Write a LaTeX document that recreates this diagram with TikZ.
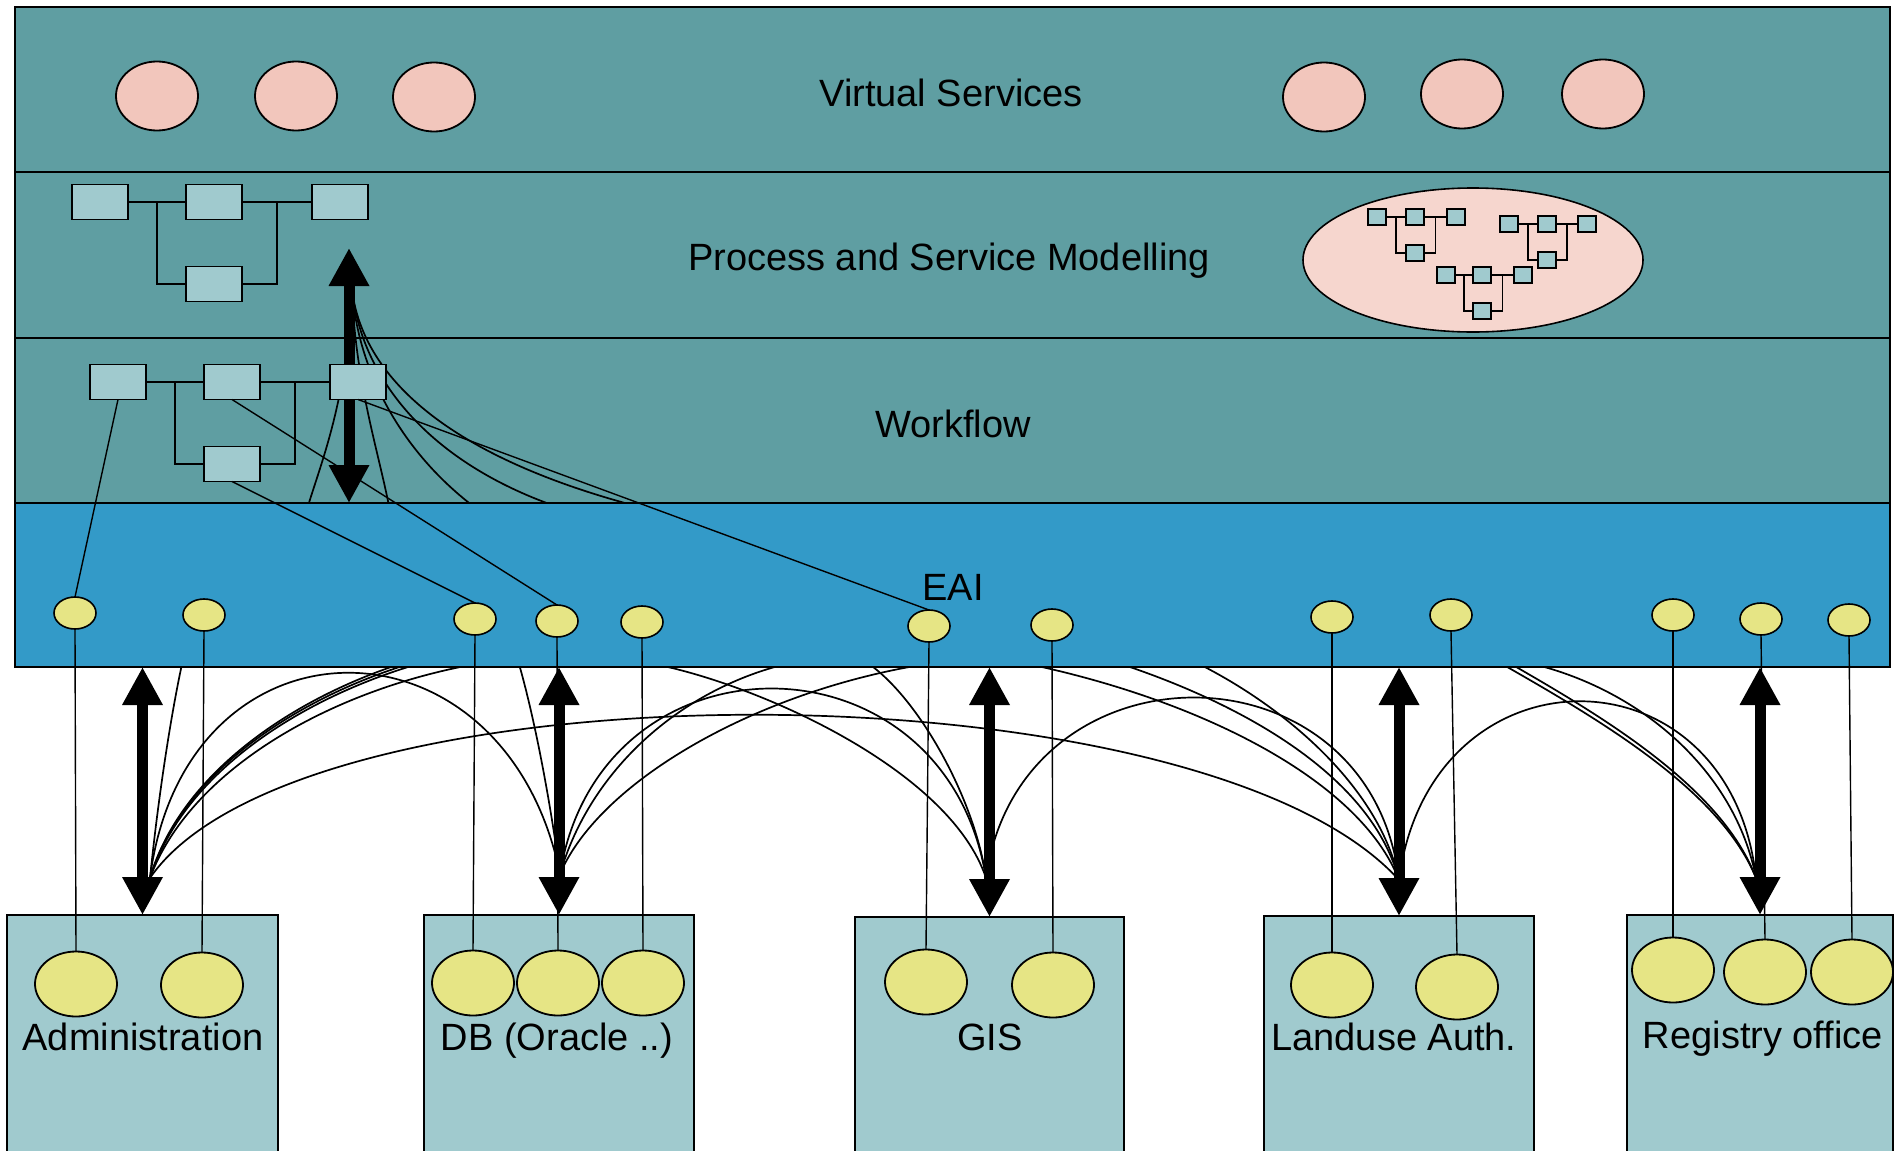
\documentclass[tikz,border=0pt]{standalone}
\usepackage{fontspec}
\setmainfont{Liberation Sans}
\usetikzlibrary{arrows.meta,shapes.geometric}

\definecolor{layerteal}{HTML}{5F9EA2}
\definecolor{eaiblue}{HTML}{339AC8}
\definecolor{boxblue}{HTML}{A0CACE}
\definecolor{svcpink}{HTML}{F2C6BC}
\definecolor{modelpink}{HTML}{F6D6CE}
\definecolor{portyellow}{HTML}{E6E585}

\tikzset{
  layerbox/.style={draw, line width=2pt, fill=layerteal, anchor=north west,
    minimum width=1875pt, inner sep=0pt, outer sep=0pt},
  caption/.style={anchor=base, inner sep=0pt, font=\fontsize{38pt}{44pt}\selectfont},
  sysbox/.style={draw, line width=2pt, fill=boxblue, anchor=north,
    minimum height=260pt, inner sep=0pt, outer sep=0pt},
  flowbox/.style={draw, line width=1.7pt, fill=boxblue, minimum width=56pt,
    minimum height=35pt, inner sep=0pt, outer sep=0pt},
  minibox/.style={draw, line width=1.3pt, fill=boxblue, minimum width=18pt,
    minimum height=16pt, inner sep=0pt, outer sep=0pt},
  service/.style={ellipse, draw, line width=1.8pt, fill=svcpink, minimum width=82pt,
    minimum height=69pt, inner sep=0pt},
  port/.style={ellipse, draw, line width=1.6pt, fill=portyellow, minimum width=42pt,
    minimum height=32pt, inner sep=0pt, outer sep=0pt},
  resource/.style={ellipse, draw, line width=1.8pt, fill=portyellow, minimum width=82pt,
    minimum height=65pt, inner sep=0pt, outer sep=0pt},
  wire/.style={line width=1.6pt},
  link/.style={line width=1.4pt},
  curve/.style={line width=1.7pt},
  bigarrow/.style={line width=11pt, {Triangle[length=38pt,width=38pt]}-{Triangle[length=38pt,width=38pt]}},
  % three boxes in a row, a fourth one below the middle one, joined as a branch;
  % arguments: box style / first pitch / second pitch / drop of the lower box
  pics/branch/.style args={#1/#2/#3/#4}{code={
    \node[#1] (-a) at (0,0) {};
    \node[#1] (-b) at (#2,0) {};
    \node[#1] (-c) at (#2+#3,0) {};
    \node[#1] (-d) at (#2,#4) {};
    \coordinate (-j1) at (0.5*#2,0);
    \coordinate (-j2) at (#2+0.5*#3,0);
    \draw[wire] (-a) -- (-j1) -- (-b) (-b) -- (-j2) -- (-c)
      (-j1) |- (-d) (-j2) |- (-d);
  }}
}

\begin{document}
\begin{tikzpicture}[x=1pt, y=-1pt]
\useasboundingbox (0,0) rectangle (1896,1151);
\clip (0,0) rectangle (1896,1151);
\fill[white] (0,0) rectangle (1896,1151);

% ---- upper layers ----
\node[layerbox, minimum height=165pt] (lyVS) at (15,7) {};
\node[layerbox, minimum height=166pt] (lyPM) at (15,172) {};
\node[layerbox, minimum height=165pt] (lyWF) at (15,338) {};

\node[caption] (tVS) at (951,106) {Virtual Services};
\node[caption] (tPM) at (949,270) {Process and Service Modelling};
\node[caption] (tWF) at (953,437) {Workflow};

% virtual services
\node[service] (s1) at (157,96) {};
\node[service] (s2) at (296,96) {};
\node[service] (s3) at (434,97) {};
\node[service] (s4) at (1324,97) {};
\node[service] (s5) at (1462,94) {};
\node[service] (s6) at (1603,94) {};

% service model repository
\node[ellipse, draw, line width=1.6pt, fill=modelpink, minimum width=340pt,
  minimum height=144pt, inner sep=0pt] (repo) at (1473,260) {};
\pic (mini1) at (1377,217) {branch=minibox/38/41/36};
\pic (mini2) at (1509,224) {branch=minibox/38/40/36};
\pic (mini3) at (1446,275) {branch=minibox/36/41/36};

% fan of calls leaving the modelling layer
\coordinate (fan) at (352,290);
\coordinate (w1) at (308,506);
\coordinate (w2) at (389,506);
\coordinate (w3) at (473,506);
\coordinate (w4) at (555,506);
\coordinate (w5) at (636,506);
\draw[curve] (fan) .. controls (347,400) and (322,460) .. (w1);
\draw[curve] (fan) .. controls (355,380) and (378,450) .. (w2);
\draw[curve] (fan) .. controls (358,370) and (400,450) .. (w3);
\draw[curve] (fan) .. controls (362,380) and (430,462) .. (w4);
\draw[curve] (fan) .. controls (365,390) and (470,462) .. (w5);

\coordinate (pmtip) at (349,248);
\draw[bigarrow] (pmtip) -- (pmtip |- lyWF.south);

% process models
\pic (pmflow) at (100,202) {branch=flowbox/114/126/82};
\pic (wfflow) at (118,382) {branch=flowbox/114/126/82};

% ---- back-end systems ----
\node[sysbox, minimum width=271pt] (adm) at (142.5,915) {};
\node[sysbox, minimum width=270pt] (db)  at (559,915) {};
\node[sysbox, minimum width=269pt] (gis) at (989.5,917) {};
\node[sysbox, minimum width=270pt] (lua) at (1399,916) {};
\node[sysbox, minimum width=266pt] (reg) at (1760,915) {};

% point-to-point integration spaghetti
\coordinate (hA) at (150,878);
\coordinate (hD) at (560,874);
\coordinate (hG) at (986,878);
\coordinate (hL) at (1399,880);
\coordinate (hR) at (1756,878);
\foreach \n/\x in {uA1/182, uA3/400, uA4/409, uA5/418, uA6/476, uD1/519,
  uD3/786, uD4/927, uG1/654, uG2/869, uL1/1028, uL2/1121, uL3/1199,
  uR1/1502, uR2/1511, uR3/1533}
  \coordinate (\n) at (\x,664);

\draw[curve] (hA) .. controls (158,800) and (170,720) .. (uA1);
\draw[curve] (hA) .. controls (185,605) and (505,605) .. (hD);
\draw[curve] (hA) .. controls (180,775) and (290,700) .. (uA3);
\draw[curve] (hA) .. controls (182,772) and (298,698) .. (uA4);
\draw[curve] (hA) .. controls (185,770) and (305,697) .. (uA5);
\draw[curve] (hA) .. controls (190,770) and (330,690) .. (uA6);
\draw[curve] (hA) .. controls (300,660) and (1200,660) .. (hL);
\draw[curve] (hD) .. controls (550,800) and (535,720) .. (uD1);
\draw[curve] (hD) .. controls (600,626) and (945,626) .. (hG);
\draw[curve] (hD) .. controls (590,770) and (680,690) .. (uD3);
\draw[curve] (hD) .. controls (600,780) and (760,690) .. (uD4);
\draw[curve] (uG1) .. controls (760,685) and (950,770) .. (hG);
\draw[curve] (uG2) .. controls (920,700) and (975,800) .. (hG);
\draw[curve] (hG) .. controls (1020,637) and (1370,637) .. (hL);
\draw[curve] (uL1) .. controls (1200,700) and (1360,780) .. (hL);
\draw[curve] (uL2) .. controls (1230,700) and (1370,770) .. (hL);
\draw[curve] (uL3) .. controls (1290,710) and (1380,790) .. (hL);
\draw[curve] (hL) .. controls (1430,642) and (1730,642) .. (hR);
\draw[curve] (uR1) .. controls (1600,720) and (1720,790) .. (hR);
\draw[curve] (uR2) .. controls (1605,718) and (1722,788) .. (hR);
\draw[curve] (uR3) .. controls (1640,690) and (1735,770) .. (hR);

% ---- EAI layer ----
\node[layerbox, fill=eaiblue, minimum height=164pt] (lyEAI) at (15,503) {};
\node[caption] (tEAI) at (953,600) {EAI};

\draw[bigarrow] (adm.north |- lyEAI.south) -- (adm.north);
\draw[bigarrow] (db.north |- lyEAI.south) -- (db.north);
\draw[bigarrow] (gis.north |- lyEAI.south) -- (gis.north);
\draw[bigarrow] (lua.north |- lyEAI.south) -- (lua.north);
\draw[bigarrow] (reg.north |- lyEAI.south) -- (reg.north);

% adapters
\node[port] (p1)  at (75,613) {};
\node[port] (p2)  at (204,615) {};
\node[port] (p3)  at (475,619) {};
\node[port] (p4)  at (557,621) {};
\node[port] (p5)  at (642,622) {};
\node[port] (p6)  at (929,626) {};
\node[port] (p7)  at (1052,625) {};
\node[port] (p8)  at (1332,617) {};
\node[port] (p9)  at (1451,615) {};
\node[port] (p10) at (1673,615) {};
\node[port] (p11) at (1761,619) {};
\node[port] (p12) at (1849,620) {};

% workflow steps bound to adapters
\draw[link] (wfflow-a.south) -- (p1.north);
\draw[link] (wfflow-b.south) -- (p4.north);
\draw[link] (wfflow-d.south) -- (p3.north);
\draw[link] (wfflow-c.south) -- (p6.north);

% system interfaces
\node[resource] (r1)  at (76,984) {};
\node[resource] (r2)  at (202,985) {};
\node[resource] (r3)  at (473,983) {};
\node[resource] (r4)  at (558,983) {};
\node[resource] (r5)  at (643,983) {};
\node[resource] (r6)  at (926,982) {};
\node[resource] (r7)  at (1053,985) {};
\node[resource] (r8)  at (1332,985) {};
\node[resource] (r9)  at (1457,987) {};
\node[resource] (r10) at (1673,970) {};
\node[resource] (r11) at (1765,972) {};
\node[resource] (r12) at (1852,972) {};

\foreach \i in {1,...,12}
  \draw[link] (p\i.south) -- (r\i.north);

\node[caption] (tAdm) at (143,1050) {Administration};
\node[caption] (tDB)  at (557,1050) {DB (Oracle ..)};
\node[caption] (tGIS) at (990,1050) {GIS};
\node[caption] (tLua) at (1394,1050) {Landuse Auth.};
\node[caption] (tReg) at (1763,1048) {Registry office};
\end{tikzpicture}
\end{document}
